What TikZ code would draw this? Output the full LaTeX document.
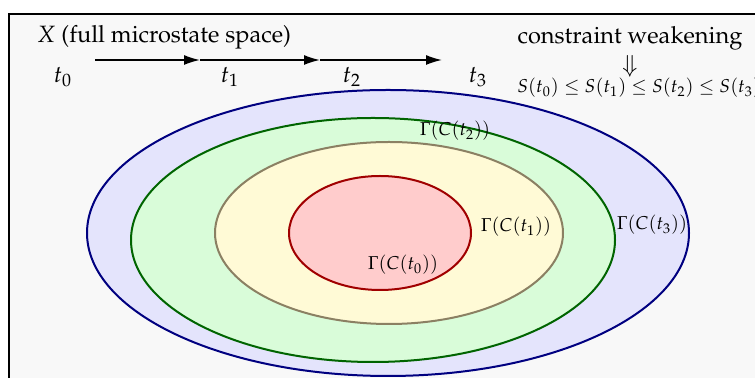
\documentclass[tikz,border=0pt]{standalone}
\usepackage[T1]{fontenc}
\usepackage{mathpazo}
\usepackage{amsmath, amssymb}
\usetikzlibrary{arrows.meta}

\definecolor{framebg}{HTML}{F8F8F8}
\definecolor{outerfill}{HTML}{E4E4FC}
\definecolor{outerline}{HTML}{000080}
\definecolor{midfill}{HTML}{D9FCD9}
\definecolor{midline}{HTML}{006400}
\definecolor{innerfill}{HTML}{FFFAD6}
\definecolor{innerline}{HTML}{8B8063}
\definecolor{corefill}{HTML}{FFCCCC}
\definecolor{coreline}{HTML}{A00000}

\tikzset{
  region/.style={line width=1pt},
  timeline/.style={thick, -{Latex[length=8pt,width=5pt]}},
  lbl/.style={inner sep=1pt, font=\fontsize{11.8}{14}\selectfont},
  small lbl/.style={inner sep=1pt, font=\fontsize{9.3}{11}\selectfont}
}

\begin{document}
\begin{tikzpicture}[x=0.5pt,y=-0.5pt]
\useasboundingbox (0,0) rectangle (755,378);
\clip (0,0) rectangle (755,378);
% Frame: full microstate space
\draw[line width=0.8pt, fill=framebg] (9,14) rectangle (790,410);
% Nested regions, weakest constraint outside
\draw[region, draw=outerline, fill=outerfill] (388,233) ellipse (301 and 143);
\draw[region, draw=midline, fill=midfill] (373,240) ellipse (242 and 122);
\draw[region, draw=innerline, fill=innerfill] (389,233) ellipse (174 and 91);
\draw[region, draw=coreline, fill=corefill] (380,233) ellipse (91 and 57);
% Region labels
\node[small lbl] (g0) at (403,265) {$\Gamma(C(t_0))$};
\node[small lbl] (g1) at (516,227) {$\Gamma(C(t_1))$};
\node[small lbl] (g2) at (455,131) {$\Gamma(C(t_2))$};
\node[small lbl] (g3) at (652,225) {$\Gamma(C(t_3))$};
% Time axis
\node[lbl] (xspace) at (164,37) {$X$ (full microstate space)};
\coordinate (p0) at (95,60);
\coordinate (p1) at (200,60);
\coordinate (p2) at (320,60);
\coordinate (p3) at (442,60);
\draw[timeline] (p0) -- (p1);
\draw[timeline] (p1) -- (p2);
\draw[timeline] (p2) -- (p3);
\node[lbl] (t0) at (63,77) {$t_0$};
\node[lbl] (t1) at (230,77) {$t_1$};
\node[lbl] (t2) at (352,77) {$t_2$};
\node[lbl] (t3) at (478,77) {$t_3$};
% Entropy ordering
\node[lbl] (weak) at (630,38) {constraint weakening};
\node[lbl] (down) at (630,66) {$\Downarrow$};
\node[small lbl, anchor=west] (ineq) at (515,88)
  {$S(t_0)\leq S(t_1)\leq S(t_2)\leq S(t_3)$};
\end{tikzpicture}
\end{document}
